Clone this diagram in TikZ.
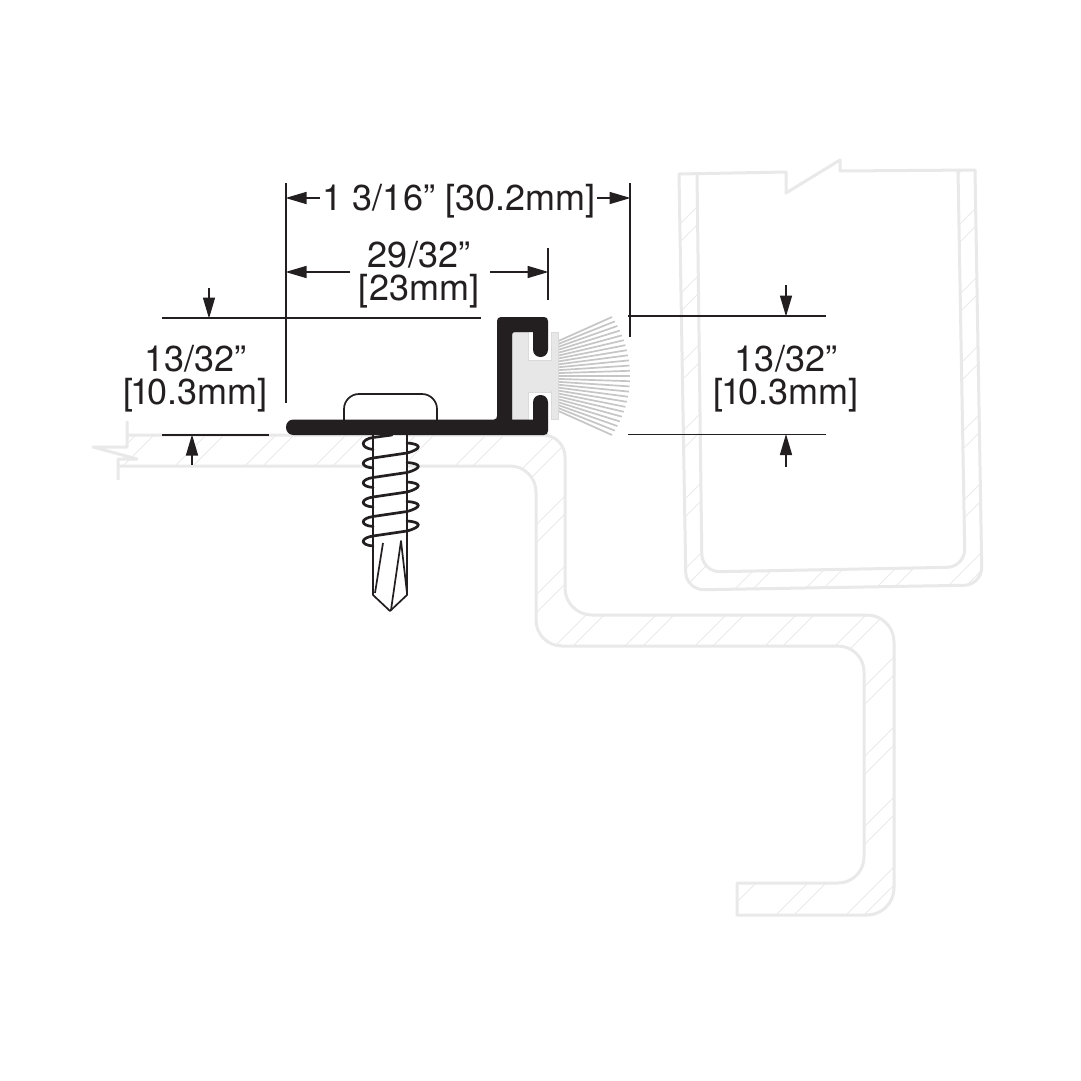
\documentclass[tikz,border=0pt]{standalone}
\usepackage{fontspec}
\setmainfont{TeX Gyre Heros}
\usetikzlibrary{arrows.meta}
\definecolor{ink}{HTML}{231F20}
\definecolor{ghost}{HTML}{E9E9E9}
\definecolor{hatchc}{HTML}{EAEAEA}
\definecolor{bristle}{HTML}{C6C6C6}
\definecolor{insertc}{HTML}{E7E7E7}
\definecolor{insertl}{HTML}{DADADA}
\tikzset{
  wall/.style={draw=ghost,line width=3pt,line join=round},
  hatchline/.style={draw=hatchc,line width=0.8pt},
  dimline/.style={draw=ink,line width=1.5pt},
  dimarrow/.style={dimline,-{Triangle[length=21pt,width=12pt]},shorten >=-0.5pt},
  screwline/.style={draw=ink,line width=1.7pt,line join=round},
  thread/.style={draw=ink,line width=2.7pt,line cap=round},
  dimtext/.style={font=\fontsize{36}{33}\selectfont,align=center,inner sep=0pt,text=ink}
}
\begin{document}
\begin{tikzpicture}[x=1pt,y=-1pt]
\useasboundingbox (0,0) rectangle (1081,1081);
\fill[white] (0,0) rectangle (1081,1081);
% ---- frame hatching
\begin{scope}
  \clip (127,435) [rounded corners=22pt] -- (565,435) [rounded corners=27pt] -- (565,615) -- (894,615) -- (894,915) [sharp corners] -- (737,915) -- (737,883) [rounded corners=26pt] -- (864,883) -- (864,646) -- (536,646) -- (536,466) [sharp corners] -- (118,466) -- cycle;
  \foreach \k in {-9,...,10}{
    \pgfmathsetmacro{\c}{1201+70*\k}
    \pgfmathsetmacro{\d}{1219+70*\k}
    \draw[hatchline] (\c,0) -- (0,\c);
    \draw[hatchline] (\d,0) -- (0,\d);
  }
\end{scope}
% ---- box hatching
\begin{scope}[even odd rule]
  \clip (679,174) -- (975,170) [rounded corners=18pt] -- (982,585) -- (686,590) [sharp corners] -- cycle
     (697,174) [rounded corners=18pt] -- (702,572) -- (965,567) [sharp corners] -- (958,170) -- cycle;
  \foreach \k in {-6,...,4}{
    \pgfmathsetmacro{\c}{1324+70*\k}
    \pgfmathsetmacro{\d}{1342+70*\k}
    \draw[hatchline] (\c,0) -- (0,\c);
    \draw[hatchline] (\d,0) -- (0,\d);
  }
\end{scope}
% ---- frame outline
\draw[wall] (127,421) -- (127,447) -- (93,447) -- (137,459) -- (118,459) -- (118,480);
\draw[wall] (127,435) [rounded corners=22pt] -- (565,435) [rounded corners=27pt] -- (565,615) -- (894,615) -- (894,915) [sharp corners] -- (737,915) -- (737,883) [rounded corners=26pt] -- (864,883) -- (864,646) -- (536,646) -- (536,466) [sharp corners] -- (118,466);
% ---- box outline
\draw[wall] (679,174) -- (786,172) -- (786,193) -- (840,160) -- (840,171) -- (975,170) [rounded corners=18pt] -- (982,585) -- (686,590) [sharp corners] -- cycle;
\draw[wall] (697,174) [rounded corners=18pt] -- (702,572) -- (965,567) [sharp corners] -- (958,170);
% ---- bristles
\foreach \i in {-12,...,12}{
  \draw[draw=bristle,line width=1.7pt] ({558},{376+\i*2.9}) -- ({524+106*cos(\i*2.82)},{376+106*sin(\i*2.82)});
}
% ---- insert
\draw[fill=insertc,draw=insertl,line width=1pt] (551,332) rectangle (558,419.5);
\draw[fill=insertc,draw=insertl,line width=1pt] (512,332) -- (528,332) -- (528,360) -- (551,360) -- (551,392) -- (528,392) -- (528,419.5) -- (512,419.5) -- cycle;
\fill[insertc] (549,361) rectangle (557,391);
% ---- screw
\fill[white] (373,435) rectangle (407,595);
\fill[white] (373,595) -- (390,611) -- (407,595) -- cycle;
\draw[screwline] (373,435) -- (373,595) -- (390,611) -- (407,595) -- (407,435);
\draw[screwline] (383,543) -- (375,593);
\draw[screwline] (391,610) -- (401,541) -- (407,593);
\draw[thread] (392,435) -- (373,437.5) .. controls (360,439.5) and (360,448) .. (373,449.5);
\foreach \k in {0,...,4}{
  \pgfmathsetmacro{\r}{447+19.5*\k}
  \draw[thread] (407,\r-4) .. controls (422,\r-3) and (422,\r+2) .. (407,\r+6) -- (373,\r+11) .. controls (360,\r+13) and (360,\r+20) .. (373,\r+21);
}
% ---- screw head
\draw[screwline,rounded corners=15pt,fill=white] (344,421) -- (344,394) -- (437,394) -- (437,421);
% ---- black profile
\fill[ink] (293.5,435) -- (544,435) .. controls (546.5,435) and (548,433.5) .. (548,431) -- (548,402.5)
  .. controls (548,392.5) and (533,392.5) .. (533,402.5) -- (533,419.5) -- (512,419.5) -- (512,335) .. controls (512,333) and (513,332) .. (515,332) -- (533,332) -- (533,349.5)
  .. controls (533,359.5) and (548,359.5) .. (548,349.5) -- (548,321) .. controls (548,318.5) and (546.5,317) .. (544,317)
  -- (501,317) .. controls (498.5,317) and (497,318.5) .. (497,321) -- (497,416) .. controls (497,418) and (496,419.5) .. (494,419.5)
  -- (293.5,419.5) .. controls (283.5,419.5) and (283.5,435) .. (293.5,435) -- cycle;
% ---- named end points of the dimensions
\coordinate (eL1) at (286,183); \coordinate (eL2) at (286,403);
\coordinate (eR1) at (630,183); \coordinate (eR2) at (630,337);
\coordinate (eM1) at (548,248); \coordinate (eM2) at (548,300);
\coordinate (a1) at (286,198); \coordinate (a1i) at (320,198);
\coordinate (a2) at (630,198); \coordinate (a2i) at (597,198);
\coordinate (b1) at (286,272); \coordinate (b1i) at (350,272);
\coordinate (b2) at (548,272); \coordinate (b2i) at (490,272);
\coordinate (hA1) at (162,318); \coordinate (hA2) at (481,318);
\coordinate (hB1) at (162,435); \coordinate (hB2) at (269,435);
\coordinate (hC1) at (628,316); \coordinate (hC2) at (826,316);
\coordinate (hD1) at (628,434.5); \coordinate (hD2) at (826,434.5);
\coordinate (c1) at (209,288); \coordinate (c2) at (209,318);
\coordinate (d1) at (192,465); \coordinate (d2) at (192,435);
\coordinate (f1) at (786,285); \coordinate (f2) at (786,316);
\coordinate (g1) at (786,467); \coordinate (g2) at (786,434.5);
\draw[dimline] (eL1) -- (eL2);
\draw[dimline] (eR1) -- (eR2);
\draw[dimline] (eM1) -- (eM2);
\draw[dimline] (hA1) -- (hA2);
\draw[dimline] (hB1) -- (hB2);
\draw[dimline] (hC1) -- (hC2);
\draw[dimline] (hD1) -- (hD2);
\draw[dimarrow] (a1i) -- (a1);
\draw[dimarrow] (a2i) -- (a2);
\draw[dimarrow] (b1i) -- (b1);
\draw[dimarrow] (b2i) -- (b2);
\draw[dimarrow] (c1) -- (c2);
\draw[dimarrow] (d1) -- (d2);
\draw[dimarrow] (f1) -- (f2);
\draw[dimarrow] (g1) -- (g2);
% ---- texts
\node[dimtext] (t1) at (459,201) {1 3/16” [30.2mm]};
\node[dimtext] (t2) at (419,275) {29/32”\\{}[23mm]};
\node[dimtext] (t3) at (195.5,379) {13/32”\\{}[\kern-2.5pt 1\kern-3pt 0.3mm]};
\node[dimtext] (t4) at (786,379) {13/32”\\{}[\kern-2.5pt 1\kern-3pt 0.3mm]};
\end{tikzpicture}
\end{document}
